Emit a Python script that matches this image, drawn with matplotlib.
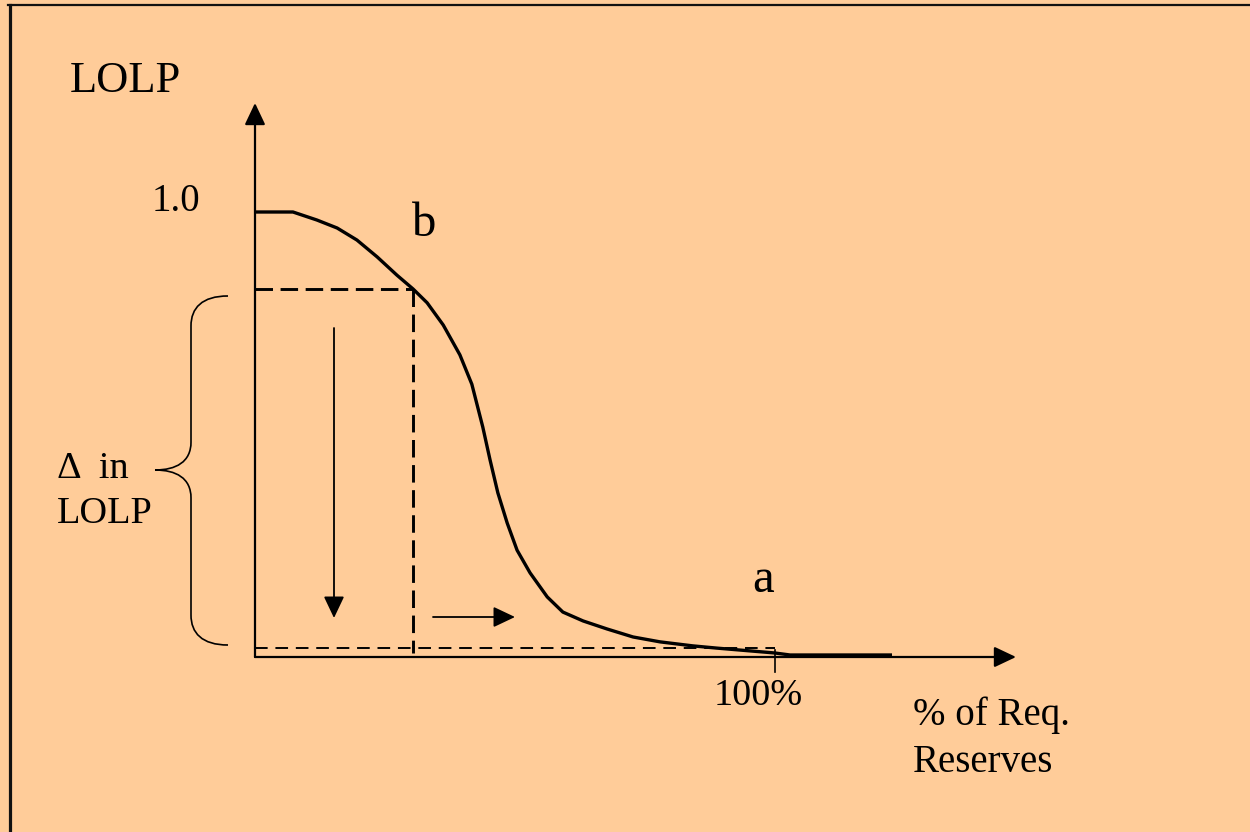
import matplotlib
matplotlib.use("Agg")
import matplotlib.pyplot as plt
from matplotlib.path import Path
from matplotlib.patches import PathPatch, FancyArrowPatch
from matplotlib.lines import Line2D

# LOLP curve: % of required reserves vs LOLP
reserves = [0, 7.3, 11.9, 15.8, 19.6, 23.5, 27.3, 30.4, 33.1, 36.2, 39.4,
            41.7, 43.8, 45.2, 46.7, 48.5, 50.4, 52.9, 56.2, 59.2,
            63.1, 67.7, 72.7, 77.9, 84.2, 88.8, 100, 102.9, 122.5]
lolp = [1.0, 1.0, 0.982, 0.964, 0.937, 0.899, 0.858, 0.827, 0.796, 0.746, 0.679,
        0.613, 0.517, 0.443, 0.369, 0.301, 0.240, 0.189, 0.135, 0.101,
        0.081, 0.063, 0.045, 0.034, 0.025, 0.020, 0.009, 0.0045, 0.0045]

point_b = (30.4, 0.827)     # operating point b on the curve
point_a_level = 0.020       # LOLP level near 100% reserves
tick_100 = 100

BG = "#FFCC99"
FONT = "Liberation Serif"

# pixel frame of the original diagram -> data coords
X0, Y0, SX, SY = 255, 657, 5.2, 445


def px(x, y):
    return (x - X0) / SX, (Y0 - y) / SY


fig = plt.figure(figsize=(12.5, 8.32), dpi=100, facecolor=BG)
ax = fig.add_axes([0, 0, 1, 1])
ax.set_facecolor(BG)
ax.set_xlim(px(0, 0)[0], px(1250, 0)[0])
ax.set_ylim(px(0, 832)[1], px(0, 0)[1])
ax.axis("off")

# frame (left and top edges only)
fig.add_artist(Line2D([9.5 / 1250, 9.5 / 1250], [0, 1 - 4.5 / 832],
                      color="#111111", lw=2.3))
fig.add_artist(Line2D([8 / 1250, 1], [1 - 4.5 / 832, 1 - 4.5 / 832],
                      color="#111111", lw=1.6))

arrow_style = "-|>,head_length=0.95,head_width=0.45"


def arrow(p0, p1, lw=1.5):
    a = FancyArrowPatch(p0, p1, arrowstyle=arrow_style, mutation_scale=14,
                        color="black", lw=lw, shrinkA=0, shrinkB=0)
    ax.add_patch(a)


# axes
arrow((0, 0), (0, px(0, 103)[1]), lw=1.6)
arrow((0, 0), (px(1016, 0)[0], 0), lw=1.6)
ax.plot([tick_100, tick_100], [px(0, 650)[1], px(0, 672)[1]], color="black", lw=1.2)

# curve
ax.plot(reserves, lolp, color="black", lw=2.4, solid_capstyle="butt",
        solid_joinstyle="round")

# dashed guides
ax.plot([0, point_b[0]], [point_b[1], point_b[1]], color="black", lw=2.1,
        dashes=(6, 2.6))
ax.plot([point_b[0], point_b[0]], [point_b[1], px(0, 653)[1]], color="black", lw=2.1,
        dashes=(6, 2.6))
ax.plot([0, tick_100], [point_a_level, point_a_level], color="black", lw=1.4,
        dashes=(6.5, 4))

# movement arrows
arrow(px(334, 328), px(334, 618), lw=1.3)
arrow(px(433, 617), px(515, 617), lw=1.3)

# curly brace
brace_px = [(228, 296), (202, 296), (191, 308), (191, 326),
            (191, 442), (191, 462), (176, 470), (155, 470),
            (176, 470), (191, 478), (191, 498),
            (191, 615), (191, 633), (202, 645), (228, 645)]
codes = [Path.MOVETO, Path.CURVE4, Path.CURVE4, Path.CURVE4,
         Path.LINETO, Path.CURVE4, Path.CURVE4, Path.CURVE4,
         Path.CURVE4, Path.CURVE4, Path.CURVE4,
         Path.LINETO, Path.CURVE4, Path.CURVE4, Path.CURVE4]
brace = Path([px(x, y) for x, y in brace_px], codes)
ax.add_patch(PathPatch(brace, facecolor="none", edgecolor="black", lw=1.2))


# labels
def label(x, y, s, size):
    ax.text(*px(x, y), s, fontsize=size, family=FONT, ha="left", va="baseline")


label(70, 92, "LOLP", 32)
label(152, 211, "1.0", 28)
label(412, 236, "b", 35)
label(752, 592, "a", 35)
label(714, 705, "100%", 27.5)
label(913, 725, "% of Req.", 28)
label(913, 772, "Reserves", 28)
label(57, 478, "\u0394  in", 27.5)
label(57, 523, "LOLP", 27.5)

fig.savefig("out.png", dpi=100, facecolor=BG)
